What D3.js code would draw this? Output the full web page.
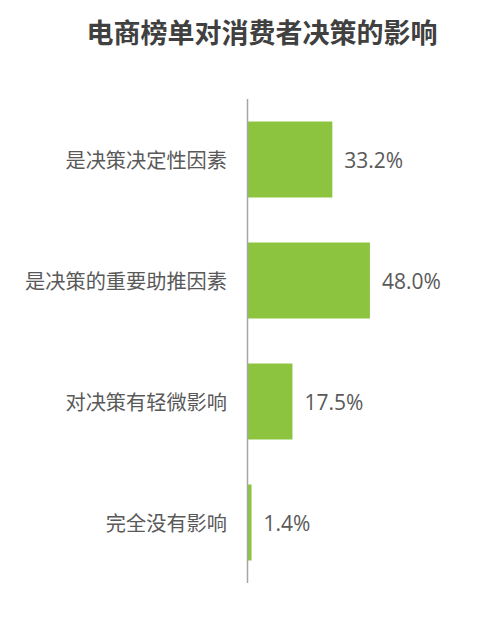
<!DOCTYPE html>
<html>
<head>
<meta charset="utf-8">
<script src="https://cdn.jsdelivr.net/npm/d3@7"></script>
<style>
  html, body { margin: 0; padding: 0; background: #fff; }
</style>
</head>
<body>
<svg id="chart"></svg>
<script>
// Data
const categories = ['是决策决定性因素', '是决策的重要助推因素', '对决策有轻微影响', '完全没有影响'];
const values = [33.2, 48.0, 17.5, 1.4];
const title = '电商榜单对消费者决策的影响';

const COLOR_BAR = '#8cc43f';
const COLOR_TEXT = '#595959';
const COLOR_TITLE = '#404040';
const COLOR_AXIS = '#a6a6a6';

const width = 481, height = 622;
const svg = d3.select('#chart').attr('width', width).attr('height', height);

// Axis sits at x≈248, bars run from y 99 to 583
const x = d3.scaleLinear().domain([0, 100]).range([248, 502]);
const y = d3.scaleBand().domain(categories).range([99, 583]).paddingInner(0.372).paddingOuter(0.186);

// Title
svg.append('text')
  .attr('x', 262)
  .attr('y', 31)
  .attr('text-anchor', 'middle')
  .attr('dominant-baseline', 'central')
  .attr('font-family', '"Noto Sans CJK SC", sans-serif')
  .attr('font-size', 27)
  .attr('font-weight', 700)
  .attr('fill', COLOR_TITLE)
  .text(title);

// Bars
svg.selectAll('.bar')
  .data(values)
  .join('rect')
  .attr('class', 'bar')
  .attr('x', x(0))
  .attr('y', (d, i) => y(categories[i]))
  .attr('width', d => x(d) - x(0))
  .attr('height', y.bandwidth())
  .attr('fill', COLOR_BAR);

// Category labels (left)
svg.selectAll('.cat')
  .data(categories)
  .join('text')
  .attr('class', 'cat')
  .attr('x', 227)
  .attr('y', d => y(d) + y.bandwidth() / 2)
  .attr('text-anchor', 'end')
  .attr('dominant-baseline', 'central')
  .attr('font-family', '"Noto Sans CJK SC", sans-serif')
  .attr('font-size', 20.2)
  .attr('fill', COLOR_TEXT)
  .text(d => d);

// Value labels
svg.selectAll('.val')
  .data(values)
  .join('text')
  .attr('class', 'val')
  .attr('x', d => x(d) + 12)
  .attr('y', (d, i) => y(categories[i]) + y.bandwidth() / 2)
  .attr('dominant-baseline', 'central')
  .attr('font-family', '"Open Sans", sans-serif')
  .attr('font-size', 21)
  .attr('fill', COLOR_TEXT)
  .text(d => d.toFixed(1) + '%');

// Vertical axis line
svg.append('line')
  .attr('x1', x(0) - 0.5).attr('x2', x(0) - 0.5)
  .attr('y1', y.range()[0]).attr('y2', y.range()[1])
  .attr('stroke', COLOR_AXIS)
  .attr('stroke-width', 1.5);
</script>
</body>
</html>
